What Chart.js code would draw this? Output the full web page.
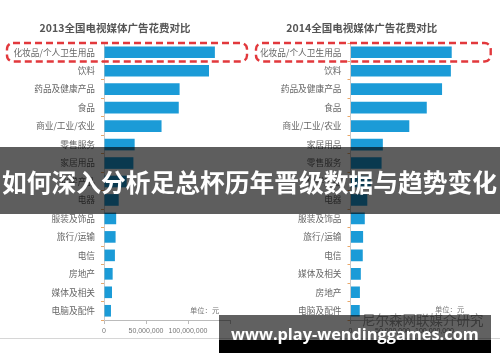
<!DOCTYPE html>
<html><head><meta charset="utf-8">
<script src="https://cdn.jsdelivr.net/npm/chart.js@4"></script>
<style>
html,body{margin:0;padding:0;background:#fff;}
#wrap{position:relative;width:500px;height:362px;overflow:hidden;background:#fff;}
canvas{position:absolute;top:0;}
#c1{left:0;} #c2{left:247px;}
.unit{position:absolute;font-family:'Noto Sans CJK SC';font-size:7.3px;line-height:7.3px;color:#777;white-space:nowrap;}
#sep{position:absolute;left:0;top:338px;width:500px;height:1px;background:#d6d6d6;}
#logo{position:absolute;left:362px;top:313px;font-family:'Noto Sans CJK SC';font-size:13.5px;line-height:13.5px;color:#9a9a9a;white-space:nowrap;}
#banner{position:absolute;left:0;top:147px;width:500px;height:67px;background:rgba(0,0,0,0.63);}
#btext{position:absolute;left:2px;font-family:'Noto Sans CJK SC';font-weight:bold;color:#fff;white-space:nowrap;}
#wm1{position:absolute;left:219px;top:315px;width:272px;height:25px;background:rgba(0,0,0,0.62);}
#wm2{position:absolute;left:219px;top:340px;width:272px;height:13px;background:#000;}
#wmtext{position:absolute;left:231px;font-family:'Open Sans';font-weight:bold;color:#fff;white-space:nowrap;}
</style></head>
<body><div id="wrap">
<canvas id="c1" width="250" height="362" style="width:250px;height:362px"></canvas>
<canvas id="c2" width="250" height="362" style="width:250px;height:362px"></canvas>
<div id="sep"></div>
<div class="unit" style="left:190px;top:307px">单位：元</div>
<div class="unit" style="left:435px;top:306px">单位：元</div>
<div id="logo">尼尔森网联媒介研究</div>
<div id="banner"></div>
<div id="btext">如何深入分析足总杯历年晋级数据与趋势变化</div>
<div id="wm1"></div><div id="wm2"></div>
<div id="wmtext">www.play-wendinggames.com</div>
</div>
<script>
const title2013 = '2013全国电视媒体广告花费对比';
const title2014 = '2014全国电视媒体广告花费对比';
const categories2013 = ['化妆品/个人卫生用品','饮料','药品及健康产品','食品','商业/工业/农业','零售服务','家居用品','化学产品','电器','服装及饰品','旅行/运输','电信','房地产','媒体及相关','电脑及配件'];
const values2013 = [132000000,125000000,90000000,89000000,68500000,36500000,35000000,27000000,17500000,14500000,13800000,13000000,10300000,9500000,8300000];
const categories2014 = ['化妆品/个人卫生用品','饮料','药品及健康产品','食品','商业/工业/农业','家居用品','零售服务','化学产品','电器','服装及饰品','旅行/运输','电信','媒体及相关','房地产','电脑及配件'];
const values2014 = [120500000,119500000,109000000,90800000,70000000,38500000,37000000,24000000,20000000,17000000,15000000,14600000,12300000,11200000,11000000];
const xTicks = [0,50000000,100000000,150000000];
const xTickLabels = ['0','50,000,000','100,000,000',''];

const redBox = {
  id:'redBox',
  afterDraw(chart, args, opts){
    const ctx = chart.ctx, y = chart.scales.y;
    const c = y.getPixelForValue(0), half = 9.2;
    ctx.save();
    ctx.strokeStyle = '#e2383c'; ctx.lineWidth = 2.4; ctx.setLineDash([7,4]);
    ctx.beginPath();
    ctx.roundRect(opts.x1, c-half, opts.x2-opts.x1, 2*half, 6);
    ctx.stroke();
    ctx.restore();
  }
};

function makeChart(id, title, labels, values, yWidth, padRight, x1, x2){
  return new Chart(document.getElementById(id), {
    type:'bar',
    data:{labels:labels, datasets:[{data:values, backgroundColor:'#1b9bd7', barPercentage:0.63, categoryPercentage:1}]},
    plugins:[redBox],
    options:{
      indexAxis:'y', responsive:false, animation:false, devicePixelRatio:1,
      layout:{padding:{left:0,right:padRight,top:0,bottom:0}},
      plugins:{
        legend:{display:false}, tooltip:{enabled:false},
        title:{display:true, text:title, color:'#555', font:{family:'Noto Sans CJK SC', size:10.5, weight:'bold'}, padding:{top:22,bottom:8.4}},
        redBox:{x1:x1, x2:x2}
      },
      scales:{
        x:{min:0, max:150000000,
           ticks:{stepSize:50000000, callback:(v)=>{const i=xTicks.indexOf(v);return i>=0?xTickLabels[i]:'';}, font:{family:'Liberation Sans', size:7}, color:'#777', padding:3, maxRotation:0, autoSkip:false},
           grid:{drawOnChartArea:false, drawTicks:true, tickLength:4, tickColor:'#bbb'},
           border:{color:'#bbb'},
           afterFit:(s)=>{s.height=42;}},
        y:{ticks:{font:{family:'Noto Sans CJK SC', size:8.7}, color:'#666', padding:6, autoSkip:false},
           grid:{drawOnChartArea:false, drawTicks:true, tickLength:3, tickColor:'#e9a86a', offset:true},
           border:{color:'#c8c8c8'},
           afterFit:(s)=>{s.width=yWidth;}}
      }
    }
  });
}
makeChart('c1', title2013, categories2013, values2013, 104, 20, 7, 247);
makeChart('c2', title2014, categories2014, values2014, 103.5, 20.5, 9, 243.7);

// fit overlay texts
const mc = document.createElement('canvas').getContext('2d');
function fit(el, family, weight, width, baseline, ascRatio){
  mc.font = weight+' 100px '+family;
  const w = mc.measureText(el.textContent).width;
  const size = 100*width/w;
  el.style.fontSize = size+'px';
  el.style.lineHeight = size+'px';
  mc.font = weight+' '+size+'px '+family;
  const m = mc.measureText(el.textContent);
  const asc = m.fontBoundingBoxAscent, desc = m.fontBoundingBoxDescent;
  const top = baseline - ((size - (asc+desc))/2 + asc);
  el.style.top = top+'px';
}
fit(document.getElementById('btext'), "'Noto Sans CJK SC'", 'bold', 495, 192.5);
fit(document.getElementById('wmtext'), "'Open Sans'", 'bold', 248, 340.5);
</script>
</body></html>
